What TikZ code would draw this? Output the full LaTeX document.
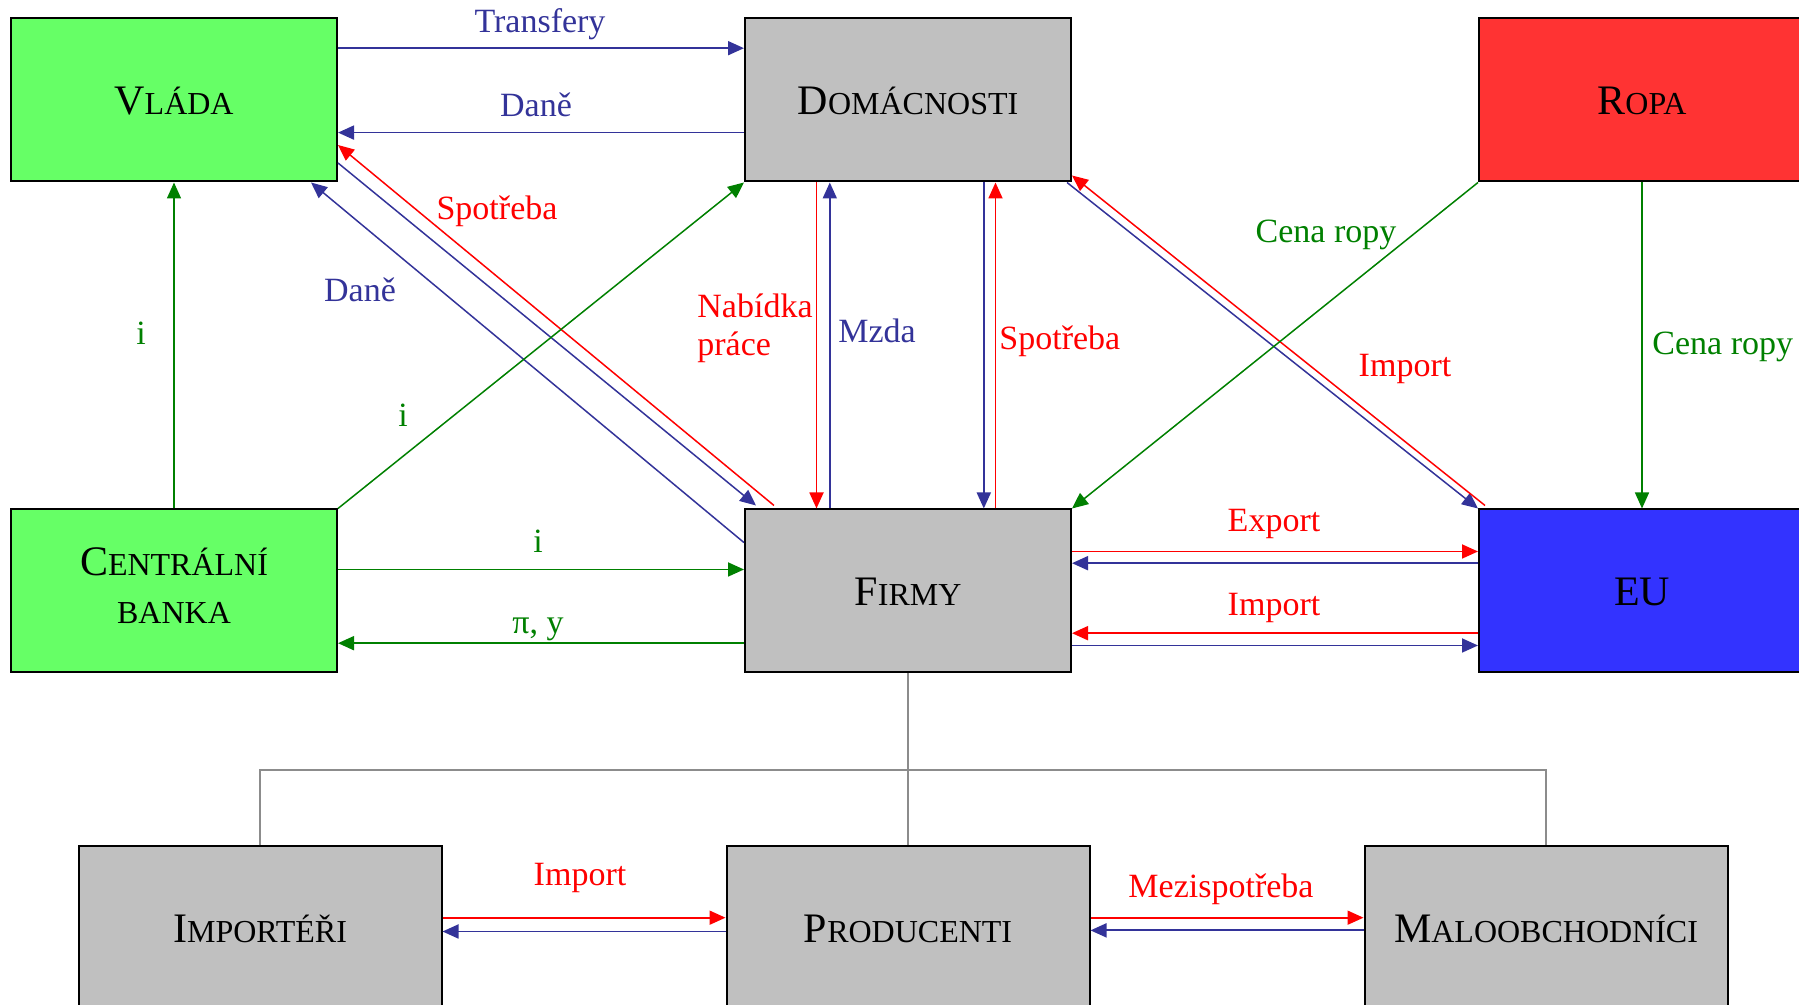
\documentclass[tikz,border=0pt]{standalone}
\usepackage{fontspec}
\setmainfont{Liberation Serif}
\usetikzlibrary{positioning, arrows.meta}

\definecolor{govgreen}{HTML}{66FF66}
\definecolor{boxgrey}{HTML}{C0C0C0}
\definecolor{oilred}{HTML}{FF3333}
\definecolor{eublue}{HTML}{3333FF}
\definecolor{flowblue}{HTML}{333399}
\definecolor{flowred}{HTML}{FF0000}
\definecolor{flowgreen}{HTML}{008000}
\definecolor{treegrey}{HTML}{8C8C8C}

\newcommand{\capsname}[2]{{\fontsize{21}{24}\selectfont #1}{\fontsize{16}{24}\selectfont #2}}

\tikzstyle{sector} = [rectangle, draw=black, line width=1pt, minimum width=163pt, minimum height=81.5pt, inner sep=0pt, text height=15pt, text depth=0pt, align=center, font=\fontsize{21}{24}\selectfont]
\tikzstyle{subsector} = [sector, fill=boxgrey, minimum width=181.5pt]
\tikzstyle{arrow} = [line width=0.9pt, -{Triangle[length=8pt,width=7pt]}]
\tikzstyle{money} = [arrow, flowblue]
\tikzstyle{goods} = [arrow, flowred]
\tikzstyle{rate} = [arrow, flowgreen]
\tikzstyle{slant} = [line width=0.75pt]
\tikzstyle{flowlabel} = [font=\fontsize{17}{19}\selectfont, anchor=base, inner sep=0pt]
\tikzstyle{tree} = [treegrey, line width=0.8pt]

\begin{document}
\begin{tikzpicture}[x=0.5pt, y=0.5pt]
\useasboundingbox (0,0) rectangle (1799,1005);
\clip (0,0) rectangle (1799,1005);

\node (vlada) [sector, fill=govgreen] at (174,905) {\capsname{V}{LÁDA}};
\node (domacnosti) [sector, fill=boxgrey, right=203pt of vlada] {\capsname{D}{OMÁCNOSTI}};
\node (ropa) [sector, fill=oilred, right=203pt of domacnosti] {\capsname{R}{OPA}};
\node (centralBanka) [sector, fill=govgreen, below=163pt of vlada, text height=33pt] {\capsname{C}{ENTRÁLNÍ}\\\capsname{}{BANKA}};
\node (firmy) [sector, fill=boxgrey, right=203pt of centralBanka] {\capsname{F}{IRMY}};
\node (eu) [sector, fill=eublue, right=203pt of firmy] {\capsname{EU}{}};
\node (producenti) [subsector, below=86pt of firmy] {\capsname{P}{RODUCENTI}};
\node (importeri) [subsector, left=141.5pt of producenti] {\capsname{I}{MPORTÉŘI}};
\node (maloobchodnici) [subsector, right=136.5pt of producenti] {\capsname{M}{ALOOBCHODNÍCI}};
\coordinate (branch) at (906.5,235);

% firmy and its parts
\draw [tree] (firmy.south) -- (producenti.north);
\draw [tree] (importeri.north) |- (branch) -| (maloobchodnici.north);

% vlada - domacnosti
\draw [money] ([yshift=25.9pt]vlada.east) -- ([yshift=25.9pt]domacnosti.west);
\draw [money] ([yshift=-16.3pt]domacnosti.west) -- ([yshift=-16.3pt]vlada.east);

% vlada - firmy
\draw [goods, slant] ([xshift=15pt, yshift=1.5pt]firmy.north west) -- ([yshift=-22.5pt]vlada.east);
\draw [money, slant] ([yshift=-31.5pt]vlada.east) -- ([xshift=6pt, yshift=1.5pt]firmy.north west);
\draw [money, slant] ([yshift=24.2pt]firmy.west) -- ([xshift=68.5pt]vlada.south);

% centralni banka
\draw [rate, slant] (centralBanka.north) -- (vlada.south);
\draw [rate, slant] (centralBanka.north east) -- (domacnosti.south west);
\draw [rate] ([yshift=10.75pt]centralBanka.east) -- ([yshift=10.75pt]firmy.west);
\draw [rate] ([yshift=-26.1pt]firmy.west) -- ([yshift=-26.1pt]centralBanka.east);

% domacnosti - firmy
\draw [goods] ([xshift=-45.75pt]domacnosti.south) -- ([xshift=-45.75pt]firmy.north);
\draw [money] ([xshift=-39.1pt]firmy.north) -- ([xshift=-39.1pt]domacnosti.south);
\draw [money] ([xshift=37.9pt]domacnosti.south) -- ([xshift=37.9pt]firmy.north);
\draw [goods] ([xshift=43.75pt]firmy.north) -- ([xshift=43.75pt]domacnosti.south);

% eu and ropa
\draw [money, slant] ([xshift=-2.5pt]domacnosti.south east) -- (eu.north west);
\draw [goods, slant] ([xshift=3.5pt, yshift=1.5pt]eu.north west) -- ([yshift=3.5pt]domacnosti.south east);
\draw [rate, slant] (ropa.south west) -- (firmy.north east);
\draw [rate, slant] (ropa.south) -- (eu.north);
\draw [goods] ([yshift=19.75pt]firmy.east) -- ([yshift=19.75pt]eu.west);
\draw [money] ([yshift=13.9pt]eu.west) -- ([yshift=13.9pt]firmy.east);
\draw [goods] ([yshift=-21.1pt]eu.west) -- ([yshift=-21.1pt]firmy.east);
\draw [money] ([yshift=-27.25pt]firmy.east) -- ([yshift=-27.25pt]eu.west);

% bottom row
\draw [goods] ([yshift=5.15pt]importeri.east) -- ([yshift=5.15pt]producenti.west);
\draw [money] ([yshift=-1.75pt]producenti.west) -- ([yshift=-1.75pt]importeri.east);
\draw [goods] ([yshift=5.15pt]producenti.east) -- ([yshift=5.15pt]maloobchodnici.west);
\draw [money] ([yshift=-1.2pt]maloobchodnici.west) -- ([yshift=-1.2pt]producenti.east);

% labels
\node (lblTransfery) [flowlabel, flowblue] at (540,972) {Transfery};
\node (lblDaneTop) [flowlabel, flowblue] at (536,888) {Daně};
\node (lblSpotrebaVlada) [flowlabel, flowred] at (497,785) {Spotřeba};
\node (lblDaneFirmy) [flowlabel, flowblue] at (360,703) {Daně};
\node (lblIVlada) [flowlabel, flowgreen] at (141,660) {i};
\node (lblIDomacnosti) [flowlabel, flowgreen] at (403,578) {i};
\node (lblIFirmy) [flowlabel, flowgreen] at (538,452) {i};
\node (lblPiY) [flowlabel, flowgreen] at (538,371) {π, y};
\node (lblNabidka) [flowlabel, flowred, anchor=west, align=left] at (697,677) {Nabídka\\práce};
\node (lblMzda) [flowlabel, flowblue, anchor=base west] at (838,662) {Mzda};
\node (lblSpotrebaFirmy) [flowlabel, flowred, anchor=base west] at (999,655) {Spotřeba};
\node (lblCenaRopyFirmy) [flowlabel, flowgreen] at (1326,762) {Cena ropy};
\node (lblImportDom) [flowlabel, flowred] at (1405,628) {Import};
\node (lblCenaRopyEu) [flowlabel, flowgreen, anchor=base west] at (1652,650) {Cena ropy};
\node (lblExport) [flowlabel, flowred] at (1274,473) {Export};
\node (lblImportEu) [flowlabel, flowred] at (1274,389) {Import};
\node (lblImportProd) [flowlabel, flowred] at (580,119) {Import};
\node (lblMezispotreba) [flowlabel, flowred] at (1221,107) {Mezispotřeba};

\end{tikzpicture}
\end{document}
